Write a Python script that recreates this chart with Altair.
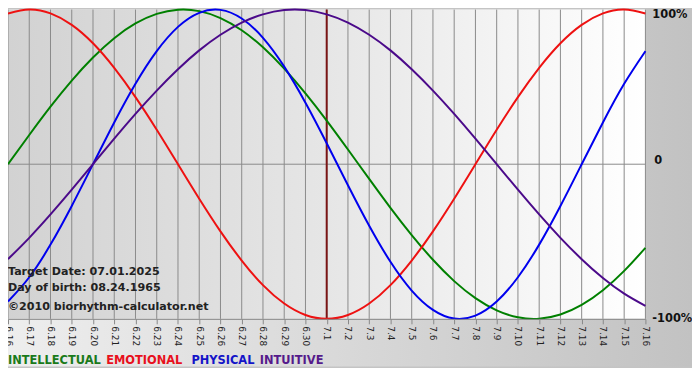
import altair as alt
import pandas as pd

days = ["6.16", "6.17", "6.18", "6.19", "6.20", "6.21", "6.22", "6.23", "6.24", "6.25",
        "6.26", "6.27", "6.28", "6.29", "6.30", "7.1", "7.2", "7.3", "7.4", "7.5",
        "7.6", "7.7", "7.8", "7.9", "7.10", "7.11", "7.12", "7.13", "7.14", "7.15", "7.16"]

intellectual = [0.000, 0.189, 0.372, 0.541, 0.690, 0.815, 0.910, 0.972, 0.999, 0.990, 0.945,
                0.866, 0.756, 0.618, 0.458, 0.282, 0.095, -0.095, -0.282, -0.458, -0.618,
                -0.756, -0.866, -0.945, -0.990, -0.999, -0.972, -0.910, -0.815, -0.690, -0.541]
emotional = [0.975, 1.000, 0.975, 0.901, 0.782, 0.623, 0.434, 0.223, 0.000, -0.223, -0.434,
             -0.623, -0.782, -0.901, -0.975, -1.000, -0.975, -0.901, -0.782, -0.623, -0.434,
             -0.223, 0.000, 0.223, 0.434, 0.623, 0.782, 0.901, 0.975, 1.000, 0.975]
physical = [-0.888, -0.731, -0.520, -0.270, 0.000, 0.270, 0.520, 0.731, 0.888, 0.979, 0.998,
            0.942, 0.817, 0.631, 0.398, 0.136, -0.136, -0.398, -0.631, -0.817, -0.942,
            -0.998, -0.979, -0.888, -0.731, -0.520, -0.270, 0.000, 0.270, 0.520, 0.731]
intuitive = [-0.614, -0.476, -0.325, -0.165, 0.000, 0.165, 0.325, 0.476, 0.614, 0.736, 0.837,
             0.916, 0.969, 0.997, 0.997, 0.969, 0.916, 0.837, 0.736, 0.614, 0.476,
             0.325, 0.165, 0.000, -0.165, -0.325, -0.476, -0.614, -0.736, -0.837, -0.916]

series_names = ["INTELLECTUAL", "EMOTIONAL", "PHYSICAL", "INTUITIVE"]
series_colors = ["#008000", "#ee1111", "#0000ee", "#4b0a8a"]
legend_colors = ["#1a7a1a", "#e8101c", "#1414c8", "#551a8b"]
target_day = "7.1"
target_text = "Target Date: 07.01.2025"
birth_text = "Day of birth: 08.24.1965"
copyright_text = "\u00a92010 biorhythm-calculator.net"
y_labels = ["100%", "0", "-100%"]

W, H = 643, 312
SVG_W, SVG_H = 690, 360

rows = []
for name, vals in zip(series_names, [intellectual, emotional, physical, intuitive]):
    for d, v in zip(days, vals):
        rows.append({"day": d, "value": v, "series": name})
df = pd.DataFrame(rows)
days_df = pd.DataFrame({"day": days})

x_enc = alt.X("day:O", sort=days, scale=alt.Scale(type="point", padding=0),
              axis=alt.Axis(title=None, labelAngle=90, labelFontSize=9, labelFont="DejaVu Sans",
                            labelColor="#222222", tickColor="#888888", domainColor="#888888",
                            tickSize=5, grid=False, zindex=1, labelPadding=2, labelOverlap=False))
y_scale = alt.Scale(domain=[-1, 1], nice=False, zero=False)

one = pd.DataFrame({"a": [0]})

full_bg = alt.Chart(one).mark_rect(
    fill=alt.LinearGradient(gradient="linear",
                            stops=[alt.GradientStop(color="#eeeeee", offset=0),
                                   alt.GradientStop(color="#c2c2c2", offset=1)],
                            x1=0, x2=1, y1=0, y2=0)
).encode(x=alt.value(0), x2=alt.value(SVG_W), y=alt.value(0), y2=alt.value(SVG_H))

plot_bg = alt.Chart(one).mark_rect(
    fill=alt.LinearGradient(gradient="linear",
                            stops=[alt.GradientStop(color="#d2d2d2", offset=0),
                                   alt.GradientStop(color="#e6e6e6", offset=0.5),
                                   alt.GradientStop(color="#ffffff", offset=1)],
                            x1=0, x2=1, y1=0, y2=0)
).encode(x=alt.value(0), x2=alt.value(W), y=alt.value(0), y2=alt.value(H))

grid = alt.Chart(days_df).mark_rule(color="#8a8a8a", strokeWidth=1).encode(
    x=x_enc, y=alt.value(0), y2=alt.value(H))

zero = alt.Chart(pd.DataFrame({"v": [0]})).mark_rule(color="#8a8a8a", strokeWidth=1).encode(
    y=alt.Y("v:Q", scale=y_scale, axis=None), x=alt.value(0), x2=alt.value(W))

target = alt.Chart(pd.DataFrame({"day": [target_day]})).mark_rule(
    color="#7a1515", strokeWidth=2).encode(x=x_enc, y=alt.value(0), y2=alt.value(H))

lines = alt.Chart(df).mark_line(strokeWidth=2, interpolate="natural").encode(
    x=x_enc,
    y=alt.Y("value:Q", scale=y_scale, axis=None),
    color=alt.Color("series:N", scale=alt.Scale(domain=series_names, range=series_colors),
                    legend=None),
    detail="series:N",
)


def label(txt, x, y, color, size, baseline="alphabetic"):
    return alt.Chart(pd.DataFrame({"t": [txt]})).mark_text(
        align="left", baseline=baseline, font="DejaVu Sans", fontSize=size,
        fontWeight="bold", color=color).encode(x=alt.value(x), y=alt.value(y), text="t:N")


texts = [
    label(target_text, 0, 268, "#222222", 11.2),
    label(birth_text, 0, 284, "#222222", 11.2),
    label(copyright_text, 0, 303, "#222222", 11.2),
    label(y_labels[0], 650, 0, "#111111", 11.5, "top"),
    label(y_labels[1], 652, 153, "#111111", 11.5, "middle"),
    label(y_labels[2], 650, 312, "#111111", 11.5, "middle"),
    label(series_names[0], 0, 358, legend_colors[0], 11.5),
    label(series_names[1], 99, 358, legend_colors[1], 11.5),
    label(series_names[2], 185, 358, legend_colors[2], 11.5),
    label(series_names[3], 254, 358, legend_colors[3], 11.5),
]

chart = alt.layer(full_bg, plot_bg, grid, zero, target, lines, *texts).properties(
    width=W, height=H,
    padding={"left": 0, "top": 0, "right": SVG_W - W, "bottom": SVG_H - H},
    autosize=alt.AutoSizeParams(type="none"),
).configure_view(stroke=None).configure(background="#c4c4c4")

chart.save("out.html", embed_options={"renderer": "svg", "actions": False})
